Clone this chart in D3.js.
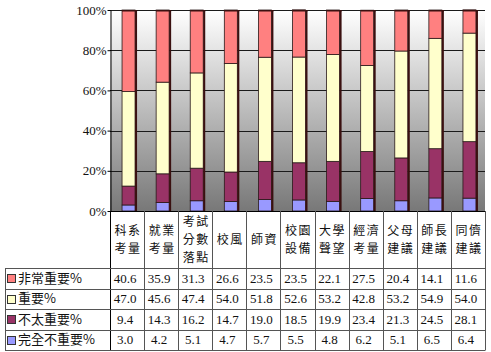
<!DOCTYPE html>
<html>
<head>
<meta charset="utf-8">
<script src="https://cdn.jsdelivr.net/npm/d3@7"></script>
<style>
  body { margin: 0; background: #fff; }
  text { font-family: "Liberation Serif", "Times New Roman", serif; }
  .cjk { font-family: "Noto Sans CJK TC", "Noto Sans CJK SC", sans-serif; }
</style>
</head>
<body>
<div id="chart"></div>
<script>
// categories (label lines for the table header)
const categories = ["科系考量", "就業考量", "考試分數落點", "校風", "師資", "校園設備", "大學聲望", "經濟考量", "父母建議", "師長建議", "同儕建議"];
const categoryLines = [["科系", "考量"], ["就業", "考量"], ["考試", "分數", "落點"], ["校風"], ["師資"], ["校園", "設備"], ["大學", "聲望"], ["經濟", "考量"], ["父母", "建議"], ["師長", "建議"], ["同儕", "建議"]];

// series, top to bottom in the table
const seriesNames = ["非常重要%", "重要%", "不太重要%", "完全不重要%"];
const veryImportant = [40.6, 35.9, 31.3, 26.6, 23.5, 23.5, 22.1, 27.5, 20.4, 14.1, 11.6];
const important = [47.0, 45.6, 47.4, 54.0, 51.8, 52.6, 53.2, 42.8, 53.2, 54.9, 54.0];
const notVery = [9.4, 14.3, 16.2, 14.7, 19.0, 18.5, 19.9, 23.4, 21.3, 24.5, 28.1];
const notAtAll = [3.0, 4.2, 5.1, 4.7, 5.7, 5.5, 4.8, 6.2, 5.1, 6.5, 6.4];
const seriesColors = ["#ff8080", "#ffffcc", "#993366", "#9999ff"];

const yTicks = [0, 20, 40, 60, 80, 100];

const width = 491, height = 352;
const plot = { left: 110, right: 485, top: 10, bottom: 211 };
const tableTop = 268, tableBottom = 350, tableLeft = 5;

const svg = d3.select("#chart").append("svg")
    .attr("width", width)
    .attr("height", height);

const x = d3.scaleBand()
    .domain(categories)
    .range([plot.left, plot.right]);

const y = d3.scaleLinear()
    .domain([0, 100])
    .range([plot.bottom, plot.top]);

// background gradient
const grad = svg.append("defs").append("linearGradient")
    .attr("id", "bg")
    .attr("x1", 0).attr("y1", 0).attr("x2", 0).attr("y2", 1);
grad.append("stop").attr("offset", "0%").attr("stop-color", "#ffffff");
grad.append("stop").attr("offset", "100%").attr("stop-color", "#787878");

svg.append("rect")
    .attr("x", plot.left)
    .attr("y", plot.top)
    .attr("width", plot.right - plot.left)
    .attr("height", plot.bottom - plot.top)
    .attr("fill", "url(#bg)");

// gridlines
svg.append("g")
    .selectAll("line")
    .data(yTicks.filter(d => d > 0))
    .join("line")
    .attr("x1", plot.left)
    .attr("x2", plot.right)
    .attr("y1", d => Math.round(y(d)) + 0.5)
    .attr("y2", d => Math.round(y(d)) + 0.5)
    .attr("stroke", "#1a1a1a")
    .attr("stroke-width", 1);

// stacked bars
const rows = categories.map((c, i) => ({
    cat: c,
    notAtAll: notAtAll[i],
    notVery: notVery[i],
    important: important[i],
    veryImportant: veryImportant[i]
}));
const keys = ["notAtAll", "notVery", "important", "veryImportant"];
const keyColor = { notAtAll: seriesColors[3], notVery: seriesColors[2], important: seriesColors[1], veryImportant: seriesColors[0] };
const stacked = d3.stack().keys(keys)(rows);

const barW = 13;
const barX = d => x(d) + x.bandwidth() / 2 - 5;

stacked.forEach(layer => {
    svg.append("g")
        .selectAll("rect")
        .data(layer)
        .join("rect")
        .attr("x", d => barX(d.data.cat))
        .attr("y", d => y(d[1]))
        .attr("width", barW)
        .attr("height", d => y(d[0]) - y(d[1]))
        .attr("fill", keyColor[layer.key])
        .attr("stroke", "#2a1a1a")
        .attr("stroke-width", 0.8);
});

// 3d side of bars
svg.append("g")
    .selectAll("rect")
    .data(categories)
    .join("rect")
    .attr("x", d => barX(d) + barW)
    .attr("y", y(100))
    .attr("width", 2)
    .attr("height", y(0) - y(100))
    .attr("fill", "#3a1010");

svg.append("g")
    .selectAll("rect")
    .data(categories)
    .join("rect")
    .attr("x", d => barX(d))
    .attr("y", y(100))
    .attr("width", barW + 2)
    .attr("height", 1.5)
    .attr("fill", "#3a1010");

// y axis
const yAxis = d3.axisLeft(y)
    .tickValues(yTicks)
    .tickFormat(d => d + "%")
    .tickSize(3)
    .tickSizeOuter(0);

const yg = svg.append("g")
    .attr("transform", `translate(${plot.left + 0.5},0)`)
    .call(yAxis);
yg.select(".domain").attr("stroke", "#000");
yg.selectAll(".tick line").attr("stroke", "#000");
yg.selectAll(".tick text")
    .attr("x", -4)
    .style("font-size", "13px")
    .style("font-family", "'Liberation Serif', serif")
    .attr("fill", "#111");

// x axis line
svg.append("line")
    .attr("x1", plot.left)
    .attr("x2", plot.right)
    .attr("y1", plot.bottom + 0.5)
    .attr("y2", plot.bottom + 0.5)
    .attr("stroke", "#000");

// table: vertical lines
const bounds = categories.map(c => x(c)).concat([plot.right]);
svg.append("g")
    .selectAll("line")
    .data(bounds)
    .join("line")
    .attr("x1", d => Math.round(d) + 0.5)
    .attr("x2", d => Math.round(d) + 0.5)
    .attr("y1", plot.bottom)
    .attr("y2", tableBottom)
    .attr("stroke", (d, i) => i === 0 ? "#000" : "#555");

svg.append("line")
    .attr("x1", tableLeft + 0.5).attr("x2", tableLeft + 0.5)
    .attr("y1", tableTop).attr("y2", tableBottom)
    .attr("stroke", "#555");

// table: horizontal lines
const rowH = (tableBottom - tableTop) / seriesNames.length;
const rowLines = d3.range(seriesNames.length + 1).map(i => tableTop + i * rowH);
svg.append("g")
    .selectAll("line")
    .data(rowLines)
    .join("line")
    .attr("x1", tableLeft)
    .attr("x2", plot.right + 0.5)
    .attr("y1", d => Math.round(d) + 0.5)
    .attr("y2", d => Math.round(d) + 0.5)
    .attr("stroke", "#555");

// header labels
const header = svg.append("g");
categories.forEach((c, i) => {
    const lines = categoryLines[i];
    const lh = 18;
    const cy = (plot.bottom + tableTop) / 2;
    const t = header.append("text")
        .attr("class", "cjk")
        .attr("x", x(c) + x.bandwidth() / 2 + 0.5)
        .attr("text-anchor", "middle")
        .style("font-size", "12px")
        .style("letter-spacing", "1.5px")
        .attr("fill", "#111");
    lines.forEach((ln, j) => {
        t.append("tspan")
            .attr("x", x(c) + x.bandwidth() / 2 + 1)
            .attr("y", cy + (j - (lines.length - 1) / 2) * lh + 4.5)
            .text(ln);
    });
});

// legend + values
const tableValues = [veryImportant, important, notVery, notAtAll];
seriesNames.forEach((name, r) => {
    const cy = tableTop + r * rowH + rowH / 2;
    svg.append("rect")
        .attr("x", 7.5)
        .attr("y", Math.round(cy - 4) + 0.5)
        .attr("width", 8)
        .attr("height", 8)
        .attr("fill", seriesColors[r])
        .attr("stroke", "#333");
    svg.append("text")
        .attr("class", "cjk")
        .attr("x", 18)
        .attr("y", cy + 4.5)
        .style("font-size", "13px")
        .attr("fill", "#111")
        .text(name);
    svg.append("g")
        .selectAll("text")
        .data(tableValues[r])
        .join("text")
        .attr("x", (d, i) => x(categories[i]) + x.bandwidth() / 2 - 2)
        .attr("y", cy + 4.5)
        .attr("text-anchor", "middle")
        .style("font-size", "13px")
        .attr("fill", "#111")
        .text(d => d.toFixed(1));
});
</script>
</body>
</html>
